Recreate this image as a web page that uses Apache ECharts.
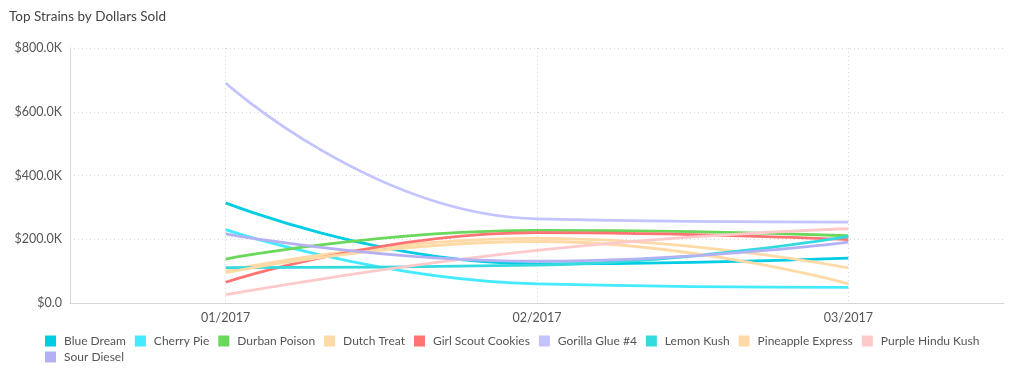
<!DOCTYPE html>
<html>
<head>
<meta charset="utf-8">
<script src="https://cdn.jsdelivr.net/npm/echarts@6/dist/echarts.min.js"></script>
<style>
html,body{margin:0;padding:0;background:#fff;}
#chart{width:1024px;height:387px;}
</style>
</head>
<body>
<div id="chart"></div>
<script>
const categories = ['01/2017', '02/2017', '03/2017'];
const seriesNames = ['Blue Dream', 'Cherry Pie', 'Durban Poison', 'Dutch Treat', 'Girl Scout Cookies', 'Gorilla Glue #4', 'Lemon Kush', 'Pineapple Express', 'Purple Hindu Kush', 'Sour Diesel'];
const blueDream = [314000, 123000, 141000];
const cherryPie = [230000, 60000, 49000];
const durbanPoison = [138000, 228000, 211000];
const dutchTreat = [100000, 203000, 110000];
const girlScoutCookies = [65000, 221000, 199000];
const gorillaGlue4 = [690000, 264000, 254000];
const lemonKush = [111000, 119000, 209000];
const pineappleExpress = [95000, 193000, 60000];
const purpleHinduKush = [26000, 165000, 233000];
const sourDiesel = [217000, 131000, 191000];
const yTicks = [0, 200000, 400000, 600000, 800000];

const seriesData = [blueDream, cherryPie, durbanPoison, dutchTreat, girlScoutCookies, gorillaGlue4, lemonKush, pineappleExpress, purpleHinduKush, sourDiesel];
const colors = ['#00cde3', '#44eaff', '#6ad85a', '#ffd9a6', '#ff7373', '#c3c3ff', '#33dbe0', '#ffd9a6', '#ffc9c9', '#b3b1f3'];
const FONT = 'Lato';

const chart = echarts.init(document.getElementById('chart'));
chart.setOption({
  animation: false,
  color: colors,
  title: {
    text: 'Top Strains by Dollars Sold',
    left: 4, top: 5,
    textStyle: {fontFamily: FONT, fontSize: 13.5, fontWeight: 'normal', color: '#444'}
  },
  legend: {
    left: 45, right: 30, top: 334, padding: 0,
    itemWidth: 11, itemHeight: 11, itemGap: 2,
    icon: 'rect',
    data: seriesNames,
    textStyle: {fontFamily: FONT, fontSize: 12, color: '#555', lineHeight: 14, padding: [0, 7, 0, 3]}
  },
  grid: {left: 70, right: 20, top: 48, bottom: 84, containLabel: false},
  xAxis: {
    type: 'category',
    data: categories,
    boundaryGap: true,
    axisLine: {lineStyle: {color: '#d6d6d6'}},
    axisTick: {show: false},
    axisLabel: {fontFamily: FONT, fontSize: 12.5, color: '#555', margin: 8},
    splitLine: {show: true, alignWithLabel: true, lineStyle: {color: '#d8d8d8', type: [1, 3]}}
  },
  yAxis: {
    type: 'value',
    min: yTicks[0], max: yTicks[yTicks.length - 1], interval: 200000,
    axisLine: {show: true, lineStyle: {color: '#d6d6d6'}},
    axisTick: {show: false},
    axisLabel: {
      fontFamily: FONT, fontSize: 12.5, color: '#555', margin: 8,
      formatter: v => v === 0 ? '$0.0' : '$' + (v / 1000).toFixed(1) + 'K'
    },
    splitLine: {show: true, lineStyle: {color: '#d8d8d8', type: [1, 3]}}
  },
  series: seriesNames.map((n, i) => ({
    name: n,
    type: 'line',
    smooth: true,
    showSymbol: false,
    symbol: 'none',
    data: seriesData[i],
    lineStyle: {width: 2.8, color: colors[i]}
  }))
});
</script>
</body>
</html>
